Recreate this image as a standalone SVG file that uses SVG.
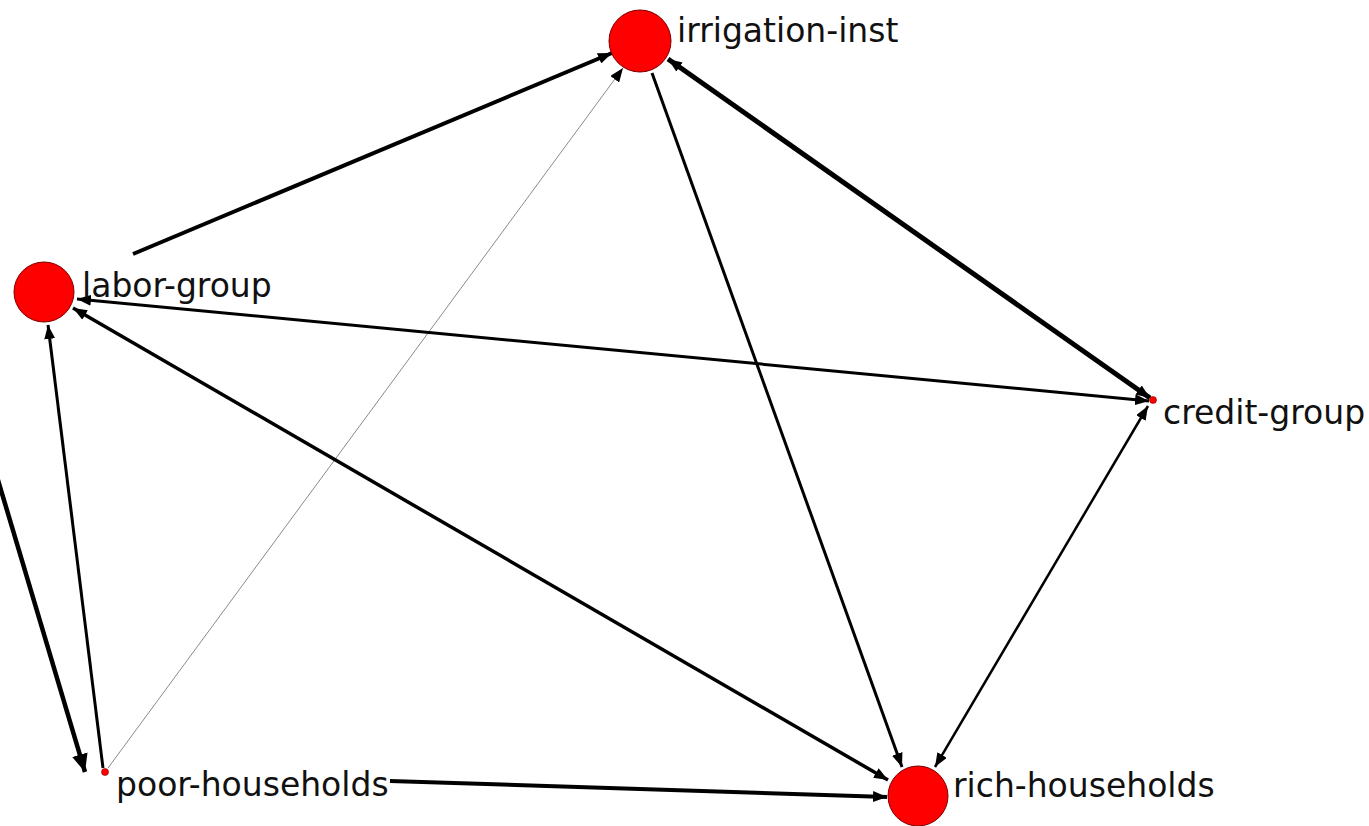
<svg xmlns="http://www.w3.org/2000/svg" width="1369" height="826" viewBox="0 0 1369 826">
<style>
.lbl{font-family:"DejaVu Sans","Liberation Sans",sans-serif;font-size:33px;fill:#111}
.big{fill:#ff0000;stroke:#7a0000;stroke-width:1}
.dot{fill:#ff0000;stroke:#7a0000;stroke-width:0.6}
.e{fill:none;stroke:#000;stroke-linecap:butt}
</style>
<defs>
<marker id="ah" viewBox="0 0 14 11" refX="14" refY="5.5" markerWidth="14" markerHeight="11" markerUnits="userSpaceOnUse" orient="auto-start-reverse">
<path d="M0,0 L14,5.5 L0,11 Z" fill="#000"/>
</marker>
<marker id="ahL" viewBox="0 0 18 16" refX="18" refY="8" markerWidth="18" markerHeight="16" markerUnits="userSpaceOnUse" orient="auto">
<path d="M0,0 L18,8 L0,16 Z" fill="#000"/>
</marker>
</defs>
<rect width="1369" height="826" fill="#fff"/>
<g id="connectors">
<line class="e" x1="133" y1="254" x2="612" y2="53" stroke-width="4" marker-end="url(#ah)"/>
<line class="e" x1="108" y1="768" x2="623" y2="68" stroke-width="1" style="stroke:#8a8a8a" marker-end="url(#ah)"/>
<line class="e" x1="652" y1="73" x2="902" y2="767" stroke-width="3" marker-end="url(#ah)"/>
<line class="e" x1="668" y1="59" x2="1150" y2="398" stroke-width="5" marker-start="url(#ah)" marker-end="url(#ah)"/>
<line class="e" x1="77" y1="299" x2="1149" y2="401" stroke-width="3" marker-start="url(#ah)" marker-end="url(#ah)"/>
<line class="e" x1="73" y1="308" x2="888" y2="780" stroke-width="3.5" marker-start="url(#ah)" marker-end="url(#ah)"/>
<line class="e" x1="103" y1="768" x2="48" y2="325" stroke-width="3" marker-end="url(#ah)"/>
<line class="e" x1="1148" y1="406" x2="935" y2="767" stroke-width="2.5" marker-start="url(#ah)" marker-end="url(#ah)"/>
<line class="e" x1="390" y1="781" x2="887" y2="797" stroke-width="4" marker-end="url(#ah)"/>
<line class="e" x1="-5" y1="470" x2="85" y2="772" stroke-width="4.5" marker-end="url(#ahL)"/>
</g>
<g id="irrigation-inst">
<circle class="big" cx="640" cy="41" r="31"/>
<text class="lbl" x="677" y="42">irrigation-inst</text>
</g>
<g id="labor-group">
<circle class="big" cx="44" cy="292" r="30"/>
<text class="lbl" x="82" y="297">labor-group</text>
</g>
<g id="credit-group">
<circle class="dot" cx="1153" cy="400" r="3.5"/>
<text class="lbl" x="1163" y="424">credit-group</text>
</g>
<g id="poor-households">
<circle class="dot" cx="105" cy="772" r="3.5"/>
<text class="lbl" x="116" y="796">poor-households</text>
</g>
<g id="rich-households">
<circle class="big" cx="918" cy="796" r="30"/>
<text class="lbl" x="953" y="797">rich-households</text>
</g>
</svg>
